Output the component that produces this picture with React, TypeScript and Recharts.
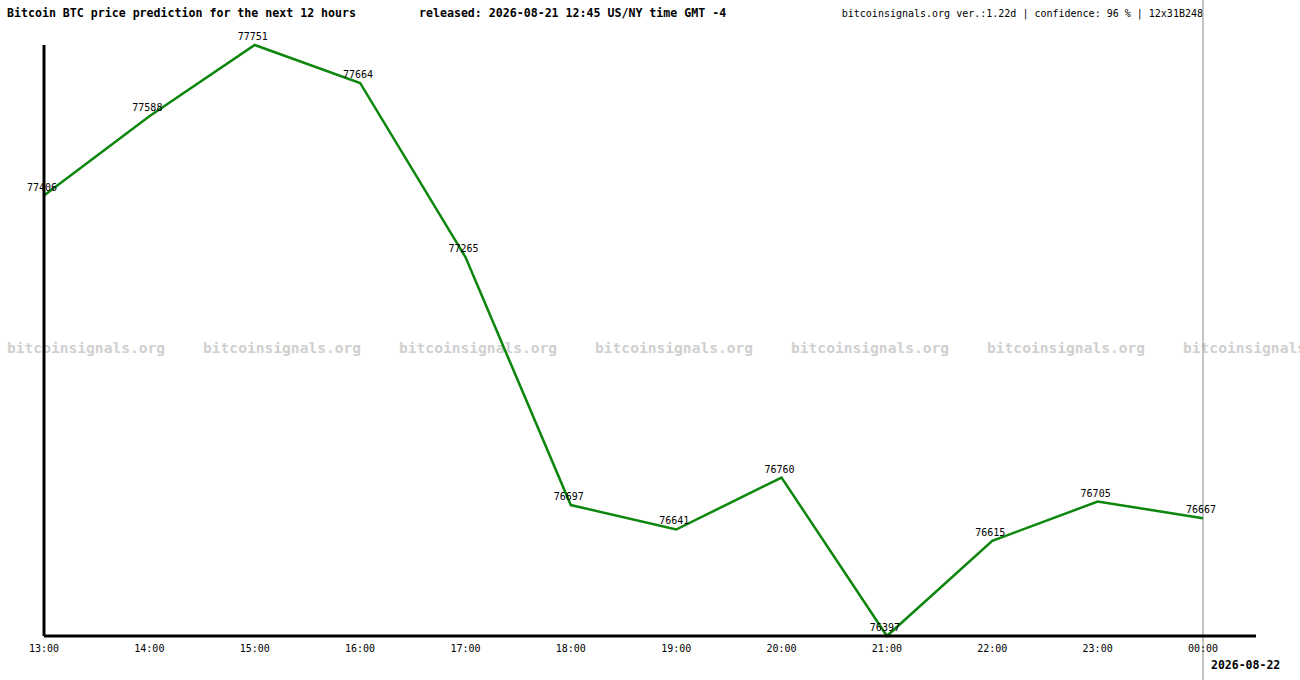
import React from 'react';
import { LineChart, Line, XAxis, YAxis, LabelList, ReferenceLine } from 'recharts';

const hours = ['13:00', '14:00', '15:00', '16:00', '17:00', '18:00', '19:00', '20:00', '21:00', '22:00', '23:00', '00:00'];
const prices = [77406, 77588, 77751, 77664, 77265, 76697, 76641, 76760, 76397, 76615, 76705, 76667];
const nextDay = '2026-08-22';
const watermarks = [0, 1, 2, 3, 4, 5, 6];

const data = hours.map((hour, i) => ({ hour, price: prices[i] }));

const MONO = '"DejaVu Sans Mono", "Liberation Mono", monospace';

// last tick also carries the date below it
function HourTick(props: any) {
  const { x, y, payload, index } = props;
  const isLast = index === hours.length - 1;
  return (
    <g>
      <text x={x} y={y} dy={8} textAnchor="middle" fontFamily={MONO} fontSize={10} fill="#000">
        {payload.value}
      </text>
      {isLast && (
        <text x={x + 8} y={y} dy={25} textAnchor="start" fontFamily={MONO} fontSize={11.5} fontWeight="bold" fill="#000">
          {nextDay}
        </text>
      )}
    </g>
  );
}

function FullHeightLine(props: any) {
  const { x1 } = props;
  return <line x1={x1} x2={x1} y1={0} y2={680} stroke="#8a8a8a" strokeWidth={1} />;
}

export default function App() {
  return (
    <div style={{ position: 'absolute', left: 0, top: 0, width: 1300, height: 680, overflow: 'hidden', background: '#fff', fontFamily: MONO }}>
      {watermarks.map((i) => (
        <div
          key={i}
          style={{
            position: 'absolute',
            left: 7 + i * 196,
            top: 339,
            fontSize: 14.6,
            fontWeight: 'bold',
            color: '#d0d0d0',
            whiteSpace: 'nowrap',
            lineHeight: '18px',
          }}
        >
          bitcoinsignals.org
        </div>
      ))}
      <div style={{ position: 'absolute', left: 7, top: 6, fontSize: 11.6, fontWeight: 'bold', whiteSpace: 'nowrap', lineHeight: '14px' }}>
        Bitcoin BTC price prediction for the next 12 hours
      </div>
      <div style={{ position: 'absolute', left: 419, top: 6, fontSize: 11.6, fontWeight: 'bold', whiteSpace: 'nowrap', lineHeight: '14px' }}>
        released: 2026-08-21 12:45 US/NY time GMT -4
      </div>
      <div style={{ position: 'absolute', right: 1300 - 1203, top: 7, fontSize: 10, whiteSpace: 'nowrap', lineHeight: '14px' }}>
        bitcoinsignals.org ver.:1.22d | confidence: 96 % | 12x31B248
      </div>
      <div style={{ position: 'absolute', left: 0, top: 0 }}>
        <LineChart width={1300} height={680} data={data} margin={{ top: 45, right: 44, bottom: 0, left: 43 }}>
          <XAxis
            dataKey="hour"
            height={44}
            padding={{ left: 0, right: 53 }}
            axisLine={{ stroke: '#000', strokeWidth: 3 }}
            tickLine={false}
            tick={<HourTick />}
            interval={0}
          />
          <YAxis
            width={1}
            domain={[76397, 77751]}
            tick={false}
            tickLine={false}
            axisLine={{ stroke: '#000', strokeWidth: 3 }}
          />
          <ReferenceLine x="00:00" shape={<FullHeightLine />} />
          <Line
            type="linear"
            dataKey="price"
            stroke="#0c860c"
            strokeWidth={2.5}
            dot={false}
            isAnimationActive={false}
          >
            <LabelList dataKey="price" position="top" offset={5} dx={-2} fontFamily={MONO} fontSize={10} fill="#000" />
          </Line>
        </LineChart>
      </div>
    </div>
  );
}
